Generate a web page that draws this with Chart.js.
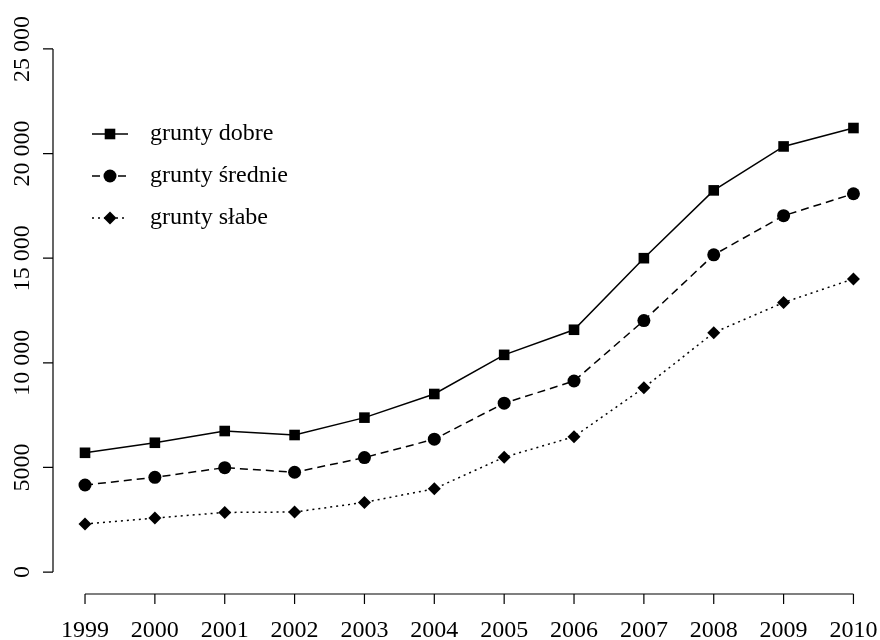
<!DOCTYPE html>
<html>
<head>
<meta charset="utf-8">
<script src="https://cdn.jsdelivr.net/npm/chart.js@4/dist/chart.umd.min.js"></script>
<style>
  body { margin: 0; background: #fff; }
  canvas { display: block; }
</style>
</head>
<body>
<canvas id="chart" width="880" height="640"></canvas>
<script>
const years = [1999, 2000, 2001, 2002, 2003, 2004, 2005, 2006, 2007, 2008, 2009, 2010];
const gruntyDobre = [5700, 6180, 6740, 6550, 7380, 8510, 10380, 11580, 15000, 18240, 20340, 21220];
const gruntySrednie = [4160, 4530, 4990, 4770, 5470, 6350, 8070, 9130, 12020, 15160, 17030, 18080];
const gruntySlabe = [2300, 2580, 2850, 2870, 3330, 3980, 5490, 6470, 8810, 11440, 12880, 14010];
const yTicks = [0, 5000, 10000, 15000, 20000, 25000];
const yTickLabels = ["0", "5000", "10 000", "15 000", "20 000", "25 000"];

const FONT = "24px 'Liberation Serif', 'DejaVu Serif', serif";

function points(values) {
  return years.map((y, i) => ({ x: y, y: values[i] }));
}

// axes drawn the R way: line only between first and last tick
const rAxes = {
  id: "rAxes",
  afterDraw(chart) {
    const ctx = chart.ctx;
    const xs = chart.scales.x;
    const ys = chart.scales.y;
    const area = chart.chartArea;
    ctx.save();
    ctx.strokeStyle = "#000";
    ctx.fillStyle = "#000";
    ctx.lineWidth = 1.2;
    ctx.font = FONT;

    // x axis
    const xAxisY = area.bottom + 1;
    ctx.beginPath();
    ctx.moveTo(xs.getPixelForValue(years[0]), xAxisY);
    ctx.lineTo(xs.getPixelForValue(years[years.length - 1]), xAxisY);
    years.forEach(yr => {
      const px = xs.getPixelForValue(yr);
      ctx.moveTo(px, xAxisY);
      ctx.lineTo(px, xAxisY + 10);
    });
    ctx.stroke();
    ctx.textAlign = "center";
    ctx.textBaseline = "alphabetic";
    years.forEach(yr => {
      ctx.fillText(String(yr), xs.getPixelForValue(yr), 637);
    });

    // y axis
    const yAxisX = area.left - 1;
    ctx.beginPath();
    ctx.moveTo(yAxisX, ys.getPixelForValue(yTicks[0]));
    ctx.lineTo(yAxisX, ys.getPixelForValue(yTicks[yTicks.length - 1]));
    yTicks.forEach(v => {
      const py = ys.getPixelForValue(v);
      ctx.moveTo(yAxisX, py);
      ctx.lineTo(yAxisX - 10, py);
    });
    ctx.stroke();
    yTicks.forEach((v, i) => {
      const py = ys.getPixelForValue(v);
      ctx.save();
      ctx.translate(29, py);
      ctx.rotate(-Math.PI / 2);
      ctx.textAlign = "center";
      ctx.fillText(yTickLabels[i], 0, 0);
      ctx.restore();
    });
    ctx.restore();
  }
};

// legend with line segment + marker, like R's legend()
const rLegend = {
  id: "rLegend",
  afterDraw(chart) {
    const ctx = chart.ctx;
    const rows = [134, 176, 218];
    ctx.save();
    chart.data.datasets.forEach((ds, i) => {
      const y = rows[i];
      ctx.strokeStyle = "#000";
      ctx.lineWidth = ds.borderWidth;
      ctx.setLineDash(ds.borderDash || []);
      ctx.beginPath();
      ctx.moveTo(92, y);
      ctx.lineTo(128, y);
      ctx.stroke();
      ctx.setLineDash([]);
      ctx.fillStyle = "#000";
      Chart.helpers.drawPoint(ctx, {
        pointStyle: ds.pointStyle,
        radius: ds.pointRadius,
        borderWidth: 0,
        rotation: 0
      }, 110, y);
      ctx.font = FONT;
      ctx.textAlign = "left";
      ctx.textBaseline = "middle";
      ctx.fillText(ds.label, 150, y);
    });
    ctx.restore();
  }
};

const common = {
  borderColor: "#000",
  backgroundColor: "#000",
  pointBackgroundColor: "#000",
  pointBorderColor: "#000",
  pointBorderWidth: 0,
  borderWidth: 1.5,
  tension: 0,
  clip: false
};

const config = {
  type: "line",
  data: {
    datasets: [
      { ...common, label: "grunty dobre", data: points(gruntyDobre), pointStyle: "rect", pointRadius: 7.5 },
      { ...common, label: "grunty średnie", data: points(gruntySrednie), pointStyle: "circle", pointRadius: 6.5, borderDash: [8, 5] },
      { ...common, label: "grunty słabe", data: points(gruntySlabe), pointStyle: "rectRot", pointRadius: 6.5, borderDash: [2, 4] }
    ]
  },
  options: {
    responsive: false,
    animation: false,
    devicePixelRatio: 1,
    layout: { autoPadding: false, padding: { left: 54, top: 28, right: 0, bottom: 47 } },
    plugins: { legend: { display: false }, tooltip: { enabled: false } },
    scales: {
      x: { type: "linear", min: 1998.556, max: 2010.38, display: false },
      y: { type: "linear", min: -1000, max: 26000, display: false }
    }
  },
  plugins: [rAxes, rLegend]
};

const myChart = new Chart(document.getElementById("chart"), config);
</script>
</body>
</html>
